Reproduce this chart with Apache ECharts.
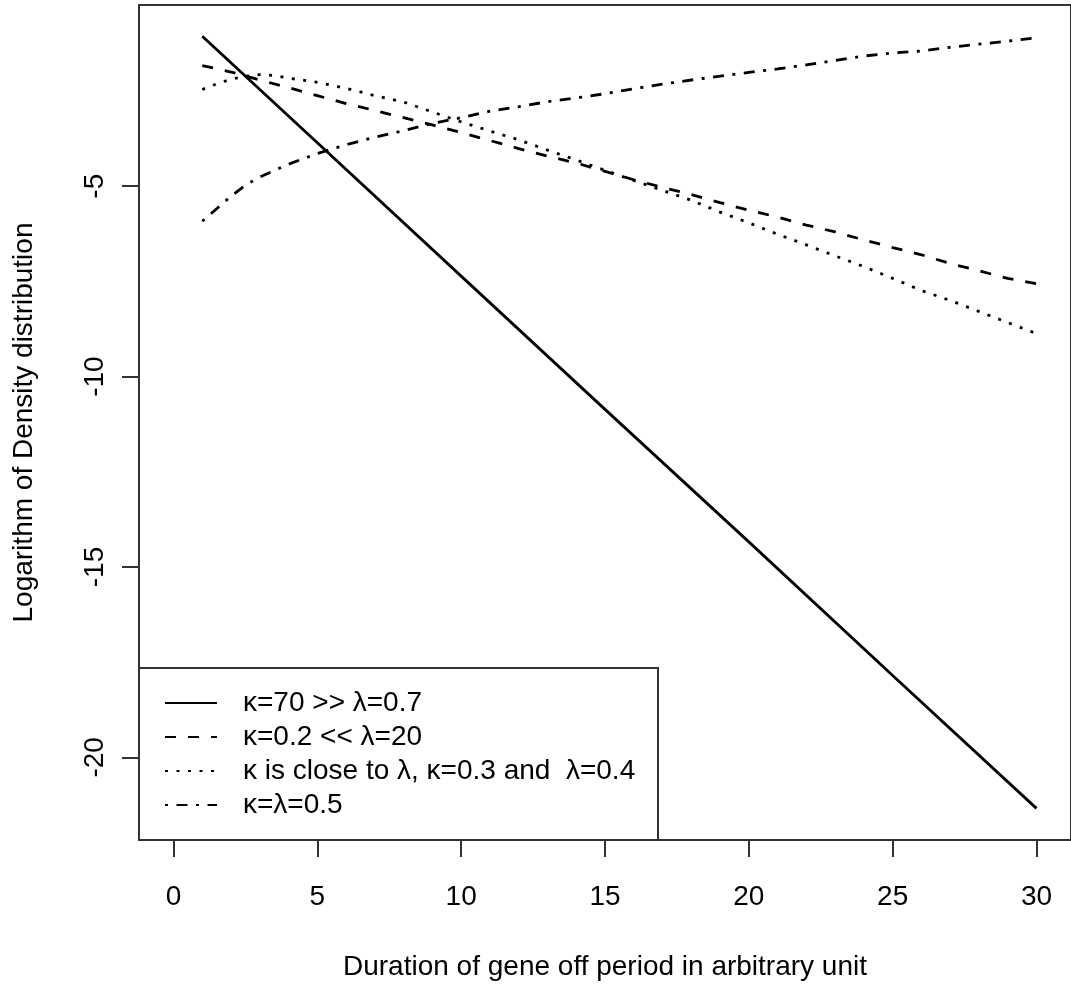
<!DOCTYPE html>
<html>
<head>
<meta charset="utf-8">
<script src="https://cdn.jsdelivr.net/npm/echarts@6/dist/echarts.min.js"></script>
<style>
  html, body { margin: 0; padding: 0; background: #fff; }
  #main { width: 1071px; height: 986px; }
</style>
</head>
<body>
<div id="main"></div>
<script>
// values
const xTicks = [0, 5, 10, 15, 20, 25, 30];
const yTicks = [-20, -15, -10, -5];

const seriesNames = [
    'κ=70 >> λ=0.7',
    'κ=0.2 << λ=20',
    'κ is close to λ, κ=0.3 and  λ=0.4',
    'κ=λ=0.5'
];

// solid line (straight)
const tSolid = [1, 5, 10, 15, 20, 25, 30];
const ySolid = [-1.06, -3.86, -7.36, -10.86, -14.34, -17.85, -21.34];

// dashed line
const tDashed = [1, 2, 3, 4, 5, 6, 7, 8, 9, 10, 11, 12, 13, 14, 15,
    16, 17, 18, 19, 20, 21, 22, 23, 24, 25, 26, 27, 28, 29, 30];
const yDashed = [-1.83, -2.00, -2.21, -2.41, -2.62, -2.83, -3.01, -3.20, -3.39, -3.59,
    -3.80, -4.01, -4.21, -4.39, -4.61, -4.83, -5.03, -5.22, -5.43, -5.63,
    -5.81, -6.02, -6.20, -6.41, -6.61, -6.80, -7.03, -7.22, -7.42, -7.56];

// dotted and dash-dot curves (extra points near the start where they bend)
const tCurve = [1, 1.5, 2, 2.5, 3, 3.5, 4, 5, 6, 7, 8, 9, 10, 11, 12, 13, 14, 15,
    16, 17, 18, 19, 20, 21, 22, 23, 24, 25, 26, 27, 28, 29, 30];
const yDotted = [-2.46, -2.31, -2.19, -2.11, -2.07, -2.09, -2.16, -2.27, -2.43, -2.62,
    -2.79, -3.05, -3.31, -3.55, -3.78, -4.05, -4.31, -4.58, -4.85, -5.11,
    -5.37, -5.68, -5.96, -6.26, -6.54, -6.83, -7.11, -7.42, -7.74, -8.00,
    -8.29, -8.58, -8.87];
const yDashDot = [-5.92, -5.59, -5.26, -4.97, -4.76, -4.59, -4.42, -4.14, -3.91, -3.71,
    -3.54, -3.35, -3.20, -3.03, -2.91, -2.78, -2.68, -2.57, -2.44, -2.32,
    -2.21, -2.11, -2.01, -1.92, -1.81, -1.70, -1.58, -1.50, -1.45, -1.35,
    -1.27, -1.19, -1.10];

function pairs(xs, ys) {
    return xs.map(function (x, i) { return [x, ys[i]]; });
}

window.addEventListener('load', function () {
    let chart = echarts.init(document.getElementById('main'));
    let font = "'Liberation Sans', Arial, sans-serif";
    let axisCol = '#333';

    function lineSeries(name, data, type) {
        return {
            name: name,
            type: 'line',
            data: data,
            symbol: 'none',
            silent: true,
            animation: false,
            itemStyle: { color: '#000' },
            lineStyle: { color: '#000', width: 2.8, type: type, cap: 'butt' }
        };
    }

    let option = {
        backgroundColor: '#fff',
        animation: false,
        textStyle: { fontFamily: font },
        grid: {
            left: 139, top: 5, right: -7, bottom: 146,
            show: true, borderColor: axisCol, borderWidth: 2,
            backgroundColor: 'transparent'
        },
        legend: {
            orient: 'vertical',
            left: 164,
            top: 686,
            padding: 0,
            itemGap: 0,
            itemWidth: 52,
            itemHeight: 14,
            data: seriesNames,
            selectedMode: false,
            itemStyle: { opacity: 0 },
            textStyle: {
                fontFamily: font, fontSize: 28, color: '#000',
                lineHeight: 34, padding: [0, 0, 0, 21]
            }
        },
        xAxis: {
            type: 'value',
            min: -1.2,
            max: 31.2,
            name: 'Duration of gene off period in arbitrary unit',
            nameLocation: 'middle',
            nameGap: 113,
            nameMoveOverlap: false,
            nameTextStyle: { fontFamily: font, fontSize: 28, color: '#000' },
            axisLine: { show: false, onZero: false },
            splitLine: { show: false },
            axisTick: {
                show: true, length: 17, customValues: xTicks,
                lineStyle: { color: axisCol, width: 2 }
            },
            axisLabel: {
                customValues: xTicks, fontSize: 28, color: '#000',
                fontFamily: font, margin: 43
            }
        },
        yAxis: {
            type: 'value',
            min: -22.17,
            max: -0.24,
            name: 'Logarithm of Density distribution',
            nameLocation: 'middle',
            nameGap: 101,
            nameMoveOverlap: false,
            nameTextStyle: { fontFamily: font, fontSize: 28, color: '#000' },
            axisLine: { show: false, onZero: false },
            splitLine: { show: false },
            axisTick: {
                show: true, length: 17, customValues: yTicks,
                lineStyle: { color: axisCol, width: 2 }
            },
            axisLabel: {
                customValues: yTicks, fontSize: 28, color: '#000',
                fontFamily: font, margin: 30, rotate: 90
            }
        },
        graphic: [{
            type: 'rect',
            shape: { x: 139, y: 668, width: 519, height: 172 },
            style: { fill: 'transparent', stroke: axisCol, lineWidth: 2 },
            silent: true
        }],
        series: [
            lineSeries(seriesNames[0], pairs(tSolid, ySolid), 'solid'),
            lineSeries(seriesNames[1], pairs(tDashed, yDashed), [11, 12]),
            lineSeries(seriesNames[2], pairs(tCurve, yDotted), [3, 8.5]),
            lineSeries(seriesNames[3], pairs(tCurve, yDashDot), [3, 8.5, 11, 8.5])
        ]
    };

    chart.setOption(option);
}, false);
</script>
</body>
</html>
